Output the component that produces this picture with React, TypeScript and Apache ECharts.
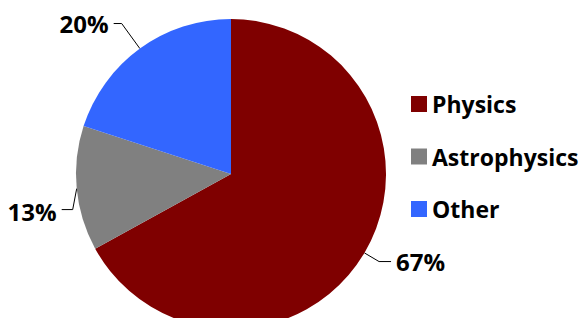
import React, { useEffect, useRef } from "react";
import * as echarts from "echarts";

const categories = ["Physics", "Astrophysics", "Other"];
const values = [67, 13, 20];
const colors = ["#7f0000", "#808080", "#3366ff"];

export default function App() {
  const ref = useRef<HTMLDivElement>(null);
  useEffect(() => {
    if (!ref.current) return;
    const chart = echarts.init(ref.current, null, { renderer: "svg" });
    chart.setOption({
      animation: false,
      color: colors,
      legend: {
        orient: "vertical",
        left: 406,
        top: 86,
        itemWidth: 16,
        itemHeight: 16,
        itemGap: 26.5,
        icon: "rect",
        data: categories,
        textStyle: {
          fontFamily: "Open Sans",
          fontWeight: "bold",
          fontSize: 23,
          lineHeight: 26,
          color: "#000",
          padding: [0, 0, 0, 0],
        },
      },
      series: [
        {
          type: "pie",
          center: [231, 174],
          radius: 155,
          startAngle: 90,
          clockwise: true,
          label: {
            show: true,
            position: "outside",
            formatter: "{d}%",
            fontFamily: "Open Sans",
            fontWeight: "bold",
            fontSize: 24,
            color: "#000",
            overflow: "none",
          },
          labelLine: {
            show: true,
            length: 17,
            length2: 12,
            lineStyle: { color: "#000", width: 1 },
          },
          labelLayout: (params: any) => {
            if (params.dataIndex !== 1) return {};
            const p0 = params.labelLinePoints[0];
            return {
              x: p0[0] - 20,
              y: p0[1] + 23,
              align: "right",
              verticalAlign: "middle",
              labelLinePoints: [
                [p0[0], p0[1]],
                [p0[0] - 4, p0[1] + 21],
                [p0[0] - 15, p0[1] + 21],
              ],
            };
          },
          data: categories.map((c, i) => ({
            name: c,
            value: values[i],
            labelLine: i === 2 ? { length: 31, length2: 8 } : undefined,
          })),
        },
      ],
    });
    return () => chart.dispose();
  }, []);
  return <div ref={ref} style={{ width: 587, height: 326, margin: -8 }} />;
}
